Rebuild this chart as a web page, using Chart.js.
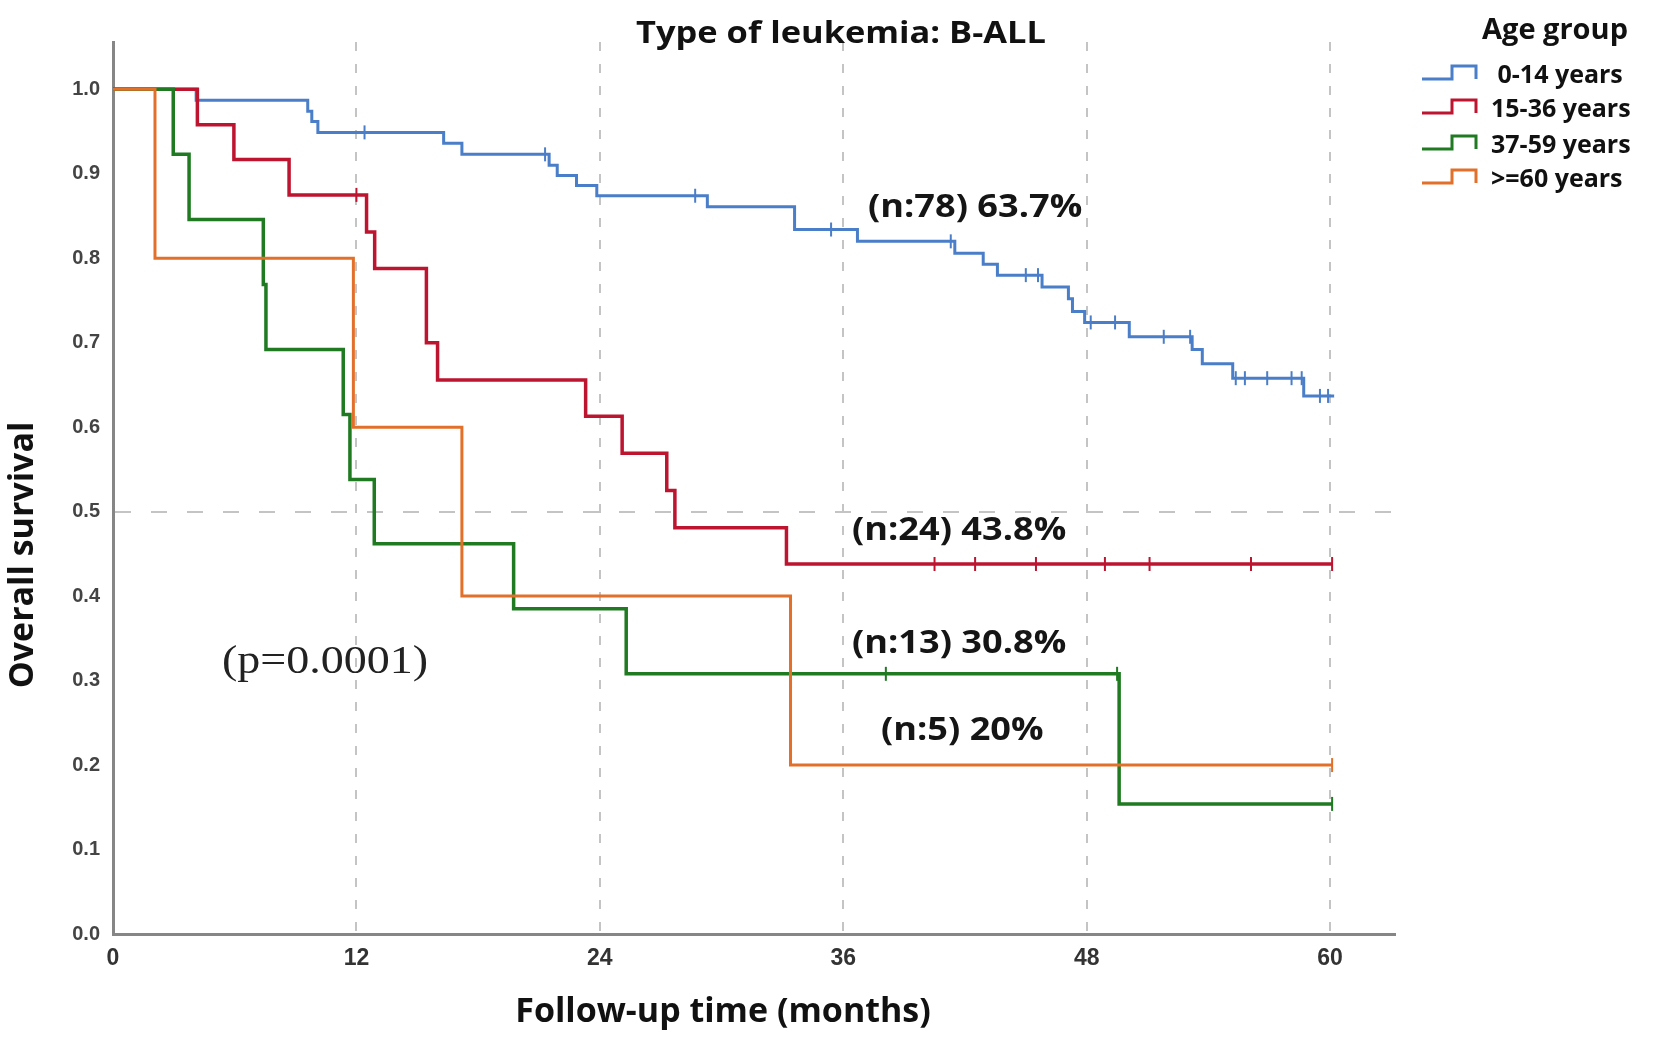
<!DOCTYPE html>
<html>
<head>
<meta charset="utf-8">
<script src="https://cdn.jsdelivr.net/npm/chart.js@4.4.1/dist/chart.umd.min.js"></script>
<style>
  html, body { margin: 0; padding: 0; background: #fff; }
  #km { display: block; }
</style>
</head>
<body>
<canvas id="km" width="1654" height="1041"></canvas>
<script>
/* Kaplan-Meier, B-ALL, overall survival by age group */

var groupNames  = [' 0-14 years', '15-36 years', '37-59 years', '>=60 years'];
var groupColors = ['#4a7ec8', '#bd1430', '#1f7a22', '#e2702a'];
var xTicks = [0, 12, 24, 36, 48, 60];
var yTicks = [0, 0.1, 0.2, 0.3, 0.4, 0.5, 0.6, 0.7, 0.8, 0.9, 1.0];

/* 0-14 years (n=78) */
var timesA = [0, 4.1, 9.6, 9.8, 10.1, 16.3, 17.2, 21.5, 21.9, 22.85, 23.85, 29.3, 33.6, 36.7, 41.5, 42.9, 43.6, 45.8, 47.1, 47.3, 47.9, 50.1, 53.2, 53.7, 55.2, 58.7, 60.2];
var survA  = [1, 0.987, 0.974, 0.962, 0.949, 0.936, 0.923, 0.910, 0.898, 0.886, 0.874, 0.861, 0.834, 0.820, 0.806, 0.793, 0.780, 0.766, 0.752, 0.737, 0.724, 0.707, 0.692, 0.675, 0.658, 0.637, 0.637];
var censA  = [12.4, 21.3, 28.7, 35.4, 41.3, 45.0, 45.6, 48.2, 49.4, 51.8, 53.1, 55.35, 55.8, 56.9, 58.1, 58.6, 59.5, 59.9];

/* 15-36 years (n=24) */
var timesB = [0, 4.16, 5.96, 8.68, 12.5, 12.9, 15.45, 16.0, 23.3, 25.1, 27.3, 27.7, 33.2, 60.1];
var survB  = [1, 0.958, 0.917, 0.875, 0.831, 0.788, 0.700, 0.656, 0.613, 0.569, 0.525, 0.481, 0.438, 0.438];
var censB  = [12.0, 40.5, 42.5, 45.5, 48.9, 51.1, 56.1, 60.1];

/* 37-59 years (n=13) */
var timesC = [0, 2.97, 3.75, 7.41, 7.54, 11.35, 11.68, 12.88, 19.75, 25.3, 49.6, 60.1];
var survC  = [1, 0.923, 0.846, 0.769, 0.692, 0.615, 0.538, 0.462, 0.385, 0.308, 0.154, 0.154];
var censC  = [38.1, 49.5, 60.1];

/* >=60 years (n=5) */
var timesD = [0, 2.07, 11.85, 17.2, 33.4, 60.1];
var survD  = [1, 0.8, 0.6, 0.4, 0.2, 0.2];
var censD  = [60.1];

var endLabels = ['(n:78) 63.7%', '(n:24) 43.8%', '(n:13) 30.8%', '(n:5) 20%'];

/* survival at time t (value after last step <= t) */
function survAt(times, surv, t) {
  var v = surv[0];
  for (var i = 0; i < times.length; i++) { if (times[i] <= t) v = surv[i]; }
  return v;
}

function curve(times, surv, color, width, order) {
  return {
    type: 'line',
    data: times.map(function(t, i) { return { x: t, y: surv[i] }; }),
    borderColor: color, borderWidth: width, stepped: true,
    pointRadius: 0, fill: false, order: order
  };
}

function marks(cens, times, surv, color, order) {
  return {
    type: 'scatter',
    data: cens.map(function(t) { return { x: t, y: survAt(times, surv, t) }; }),
    pointStyle: 'line', rotation: 90, pointRadius: 7,
    pointBorderColor: color, pointBorderWidth: 2, borderColor: color, order: order
  };
}

/* ── texts, legend ─────────────────────────────────────────── */
function txt(ctx, s, x, y, font, color, align, sx) {
  ctx.save();
  ctx.font = font;
  ctx.fillStyle = color;
  ctx.textAlign = align || 'left';
  ctx.textBaseline = 'alphabetic';
  ctx.translate(x, y);
  ctx.scale(sx || 1, 1);
  ctx.fillText(s, 0, 0);
  ctx.restore();
}

var kmText = {
  id: 'kmText',
  afterDraw: function(chart) {
    var ctx = chart.ctx;
    var bold = 'bold ', fam = '"Open Sans", "Noto Sans", sans-serif';

    txt(ctx, 'Type of leukemia: B-ALL', 841, 43, bold + '31px ' + fam, '#111', 'center', 1.11);

    // legend
    txt(ctx, 'Age group', 1482, 39, bold + '29px ' + fam, '#111', 'left');
    var base = [83, 117, 153, 187];
    groupNames.forEach(function(name, i) {
      var b = base[i], lo = b - 4, hi = b - 17;
      ctx.save();
      ctx.strokeStyle = groupColors[i];
      ctx.lineWidth = 3;
      ctx.beginPath();
      ctx.moveTo(1422, lo); ctx.lineTo(1452, lo); ctx.lineTo(1452, hi);
      ctx.lineTo(1476, hi); ctx.lineTo(1476, lo);
      ctx.stroke();
      ctx.restore();
      txt(ctx, name, 1491, b, bold + '25px ' + fam, '#111', 'left');
    });

    // axis titles
    ctx.save();
    ctx.translate(33, 555);
    ctx.rotate(-Math.PI / 2);
    txt(ctx, 'Overall survival', 0, 0, bold + '34px ' + fam, '#111', 'center');
    ctx.restore();
    txt(ctx, 'Follow-up time (months)', 723, 1022, bold + '34px ' + fam, '#111', 'center');

    // end-of-curve labels
    var lx = [868, 852, 852, 881], ly = [217, 540, 653, 740];
    endLabels.forEach(function(s, i) {
      txt(ctx, s, lx[i], ly[i], bold + '32px ' + fam, '#151515', 'left', 1.13);
    });

    txt(ctx, '(p=0.0001)', 222, 673, '40px "Liberation Serif", "DejaVu Serif", serif', '#222', 'left', 1.15);
  }
};

new Chart(document.getElementById('km'), {
  type: 'scatter',
  data: {
    datasets: [
      curve(timesA, survA, groupColors[0], 3, 3),
      curve(timesB, survB, groupColors[1], 3.5, 2),
      curve(timesC, survC, groupColors[2], 3.5, 1),
      curve(timesD, survD, groupColors[3], 3, 0),
      marks(censA, timesA, survA, groupColors[0], 3),
      marks(censB, timesB, survB, groupColors[1], 2),
      marks(censC, timesC, survC, groupColors[2], 1),
      marks(censD, timesD, survD, groupColors[3], 0)
    ]
  },
  options: {
    responsive: false, animation: false, devicePixelRatio: 1, events: [],
    layout: { padding: { left: 0, right: 259, top: 42, bottom: 0 } },
    plugins: { legend: { display: false }, tooltip: { enabled: false }, title: { display: false } },
    scales: {
      x: {
        type: 'linear', min: 0, max: 63.2,
        afterBuildTicks: function(s) { s.ticks = xTicks.map(function(v) { return { value: v }; }); },
        afterFit: function(s) { s.height = 107; },
        grid: {
          drawTicks: false, lineWidth: 2,
          color: function(c) { return c.tick && c.tick.value !== 0 ? '#c4c4c4' : 'rgba(0,0,0,0)'; }
        },
        border: { display: true, color: '#868686', width: 3, dash: [9, 13] },
        ticks: {
          padding: 11, color: '#333', maxRotation: 0,
          font: { family: '"Liberation Sans Narrow", "Liberation Sans", sans-serif', size: 23, weight: 'bold' },
          callback: function(v) { return v; }
        }
      },
      y: {
        type: 'linear', min: 0, max: 1.056,
        afterBuildTicks: function(s) { s.ticks = yTicks.map(function(v) { return { value: v }; }); },
        afterFit: function(s) { s.width = 113; },
        grid: {
          drawTicks: false, lineWidth: 2,
          color: function(c) { return c.tick && c.tick.value === 0.5 ? '#c4c4c4' : 'rgba(0,0,0,0)'; }
        },
        border: { display: true, color: '#868686', width: 3, dash: [16, 20] },
        ticks: {
          padding: 13, color: '#444',
          font: { family: '"Liberation Sans", "DejaVu Sans", sans-serif', size: 20, weight: 'bold' },
          callback: function(v) { return v.toFixed(1); }
        }
      }
    }
  },
  plugins: [kmText]
});
</script>
</body>
</html>
